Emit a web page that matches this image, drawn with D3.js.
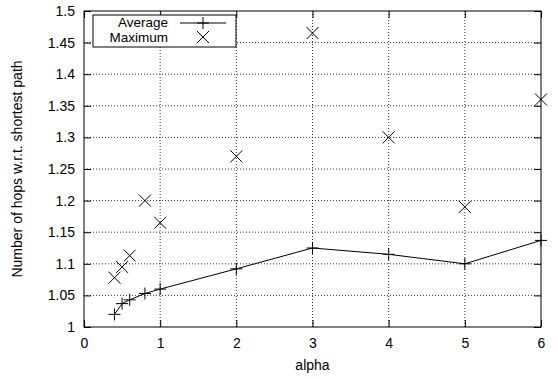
<!DOCTYPE html>
<html><head><meta charset="utf-8">
<script src="https://cdn.jsdelivr.net/npm/d3@7"></script>
<style>body{margin:0;background:#fff}svg{display:block}text{font-family:"Liberation Sans",Arial,sans-serif;font-size:14px;fill:#000}</style>
</head><body>
<script>
const alphaAvg = [0.4, 0.5, 0.6, 0.8, 1, 2, 3, 4, 5, 6];
const averageHops = [1.02, 1.037, 1.043, 1.053, 1.06, 1.092, 1.125, 1.115, 1.1, 1.137];
const alphaMax = [0.4, 0.5, 0.6, 0.8, 1, 2, 3, 4, 5, 6];
const maximumHops = [1.078, 1.095, 1.113, 1.2, 1.165, 1.27, 1.465, 1.3, 1.19, 1.36];
const xTicks = [0, 1, 2, 3, 4, 5, 6];
const yTicks = [1, 1.05, 1.1, 1.15, 1.2, 1.25, 1.3, 1.35, 1.4, 1.45, 1.5];

const W = 558, H = 379;
const L = 84, R = 541, T = 11, B = 327;
const svg = d3.select("body").append("svg").attr("width", W).attr("height", H);
const x = d3.scaleLinear().domain([0, 6]).range([L, R]);
const y = d3.scaleLinear().domain([1, 1.5]).range([B, T]);

// grid
const g = svg.append("g");
g.selectAll(".vx").data(xTicks.slice(1, -1)).join("line")
  .attr("x1", d => x(d)).attr("x2", d => x(d)).attr("y1", T).attr("y2", B)
  .attr("stroke", "#000").attr("stroke-width", 0.8).attr("stroke-dasharray", "1,2");
g.selectAll(".hy").data(yTicks.slice(1, -1)).join("line")
  .attr("y1", d => y(d)).attr("y2", d => y(d)).attr("x1", L).attr("x2", R)
  .attr("stroke", "#000").attr("stroke-width", 0.8).attr("stroke-dasharray", "1,2");

// axes with inward ticks
const ax = d3.axisBottom(x).tickValues(xTicks).tickFormat(d3.format("d")).tickSizeInner(-7).tickSizeOuter(0).tickPadding(11);
svg.append("g").attr("transform", `translate(0,${B})`).call(ax);
const axT = d3.axisTop(x).tickValues(xTicks).tickFormat("").tickSizeInner(-7).tickSizeOuter(0);
svg.append("g").attr("transform", `translate(0,${T})`).call(axT);
const ay = d3.axisLeft(y).tickValues(yTicks).tickFormat(d => d3.format("")(+d.toFixed(2))).tickSizeInner(-7).tickSizeOuter(0).tickPadding(9);
svg.append("g").attr("transform", `translate(${L},0)`).call(ay);
const ayR = d3.axisRight(y).tickValues(yTicks).tickFormat("").tickSizeInner(-7).tickSizeOuter(0);
svg.append("g").attr("transform", `translate(${R},0)`).call(ayR);
svg.selectAll(".domain").remove();
svg.selectAll(".tick line").attr("stroke", "#000");
svg.selectAll(".tick text").style("font-size", "14px").style("font-family", "'Liberation Sans',Arial,sans-serif");
svg.append("rect").attr("x", L).attr("y", T).attr("width", R - L).attr("height", B - T)
  .attr("fill", "none").attr("stroke", "#000").attr("stroke-width", 1);

// average line
const avgData = alphaAvg.map((a, i) => [a, averageHops[i]]);
svg.append("path").datum(avgData)
  .attr("d", d3.line().x(d => x(d[0])).y(d => y(d[1])))
  .attr("fill", "none").attr("stroke", "#000").attr("stroke-width", 1);
const s = 6;
svg.append("g").selectAll("path").data(avgData).join("path")
  .attr("d", d => `M${x(d[0]) - s},${y(d[1])}H${x(d[0]) + s}M${x(d[0])},${y(d[1]) - s}V${y(d[1]) + s}`)
  .attr("stroke", "#000").attr("stroke-width", 1);

// maximum points
const maxData = alphaMax.map((a, i) => [a, maximumHops[i]]);
const c = 6;
svg.append("g").selectAll("path").data(maxData).join("path")
  .attr("d", d => `M${x(d[0]) - c},${y(d[1]) - c}L${x(d[0]) + c},${y(d[1]) + c}M${x(d[0]) - c},${y(d[1]) + c}L${x(d[0]) + c},${y(d[1]) - c}`)
  .attr("stroke", "#000").attr("stroke-width", 1);

// legend
const lg = svg.append("g");
lg.append("rect").attr("x", 93).attr("y", 15).attr("width", 143).attr("height", 32)
  .attr("fill", "#fff").attr("stroke", "#000").attr("stroke-width", 1);
lg.append("text").attr("x", 168).attr("y", 27).attr("text-anchor", "end").style("font-size", "13.5px").text("Average");
lg.append("text").attr("x", 168).attr("y", 42).attr("text-anchor", "end").style("font-size", "13.5px").text("Maximum");
lg.append("line").attr("x1", 180).attr("x2", 226).attr("y1", 23).attr("y2", 23).attr("stroke", "#000");
lg.append("path").attr("d", `M${203 - s},23H${203 + s}M203,${23 - s}V${23 + s}`).attr("stroke", "#000");
lg.append("path").attr("d", `M${203 - c},${37 - c}L${203 + c},${37 + c}M${203 - c},${37 + c}L${203 + c},${37 - c}`).attr("stroke", "#000");

// titles
svg.append("text").attr("x", (L + R) / 2).attr("y", 370).attr("text-anchor", "middle").text("alpha");
svg.append("text").attr("transform", `translate(22,${(T + B) / 2}) rotate(-90)`).attr("text-anchor", "middle").text("Number of hops w.r.t. shortest path");
</script>
</body></html>
